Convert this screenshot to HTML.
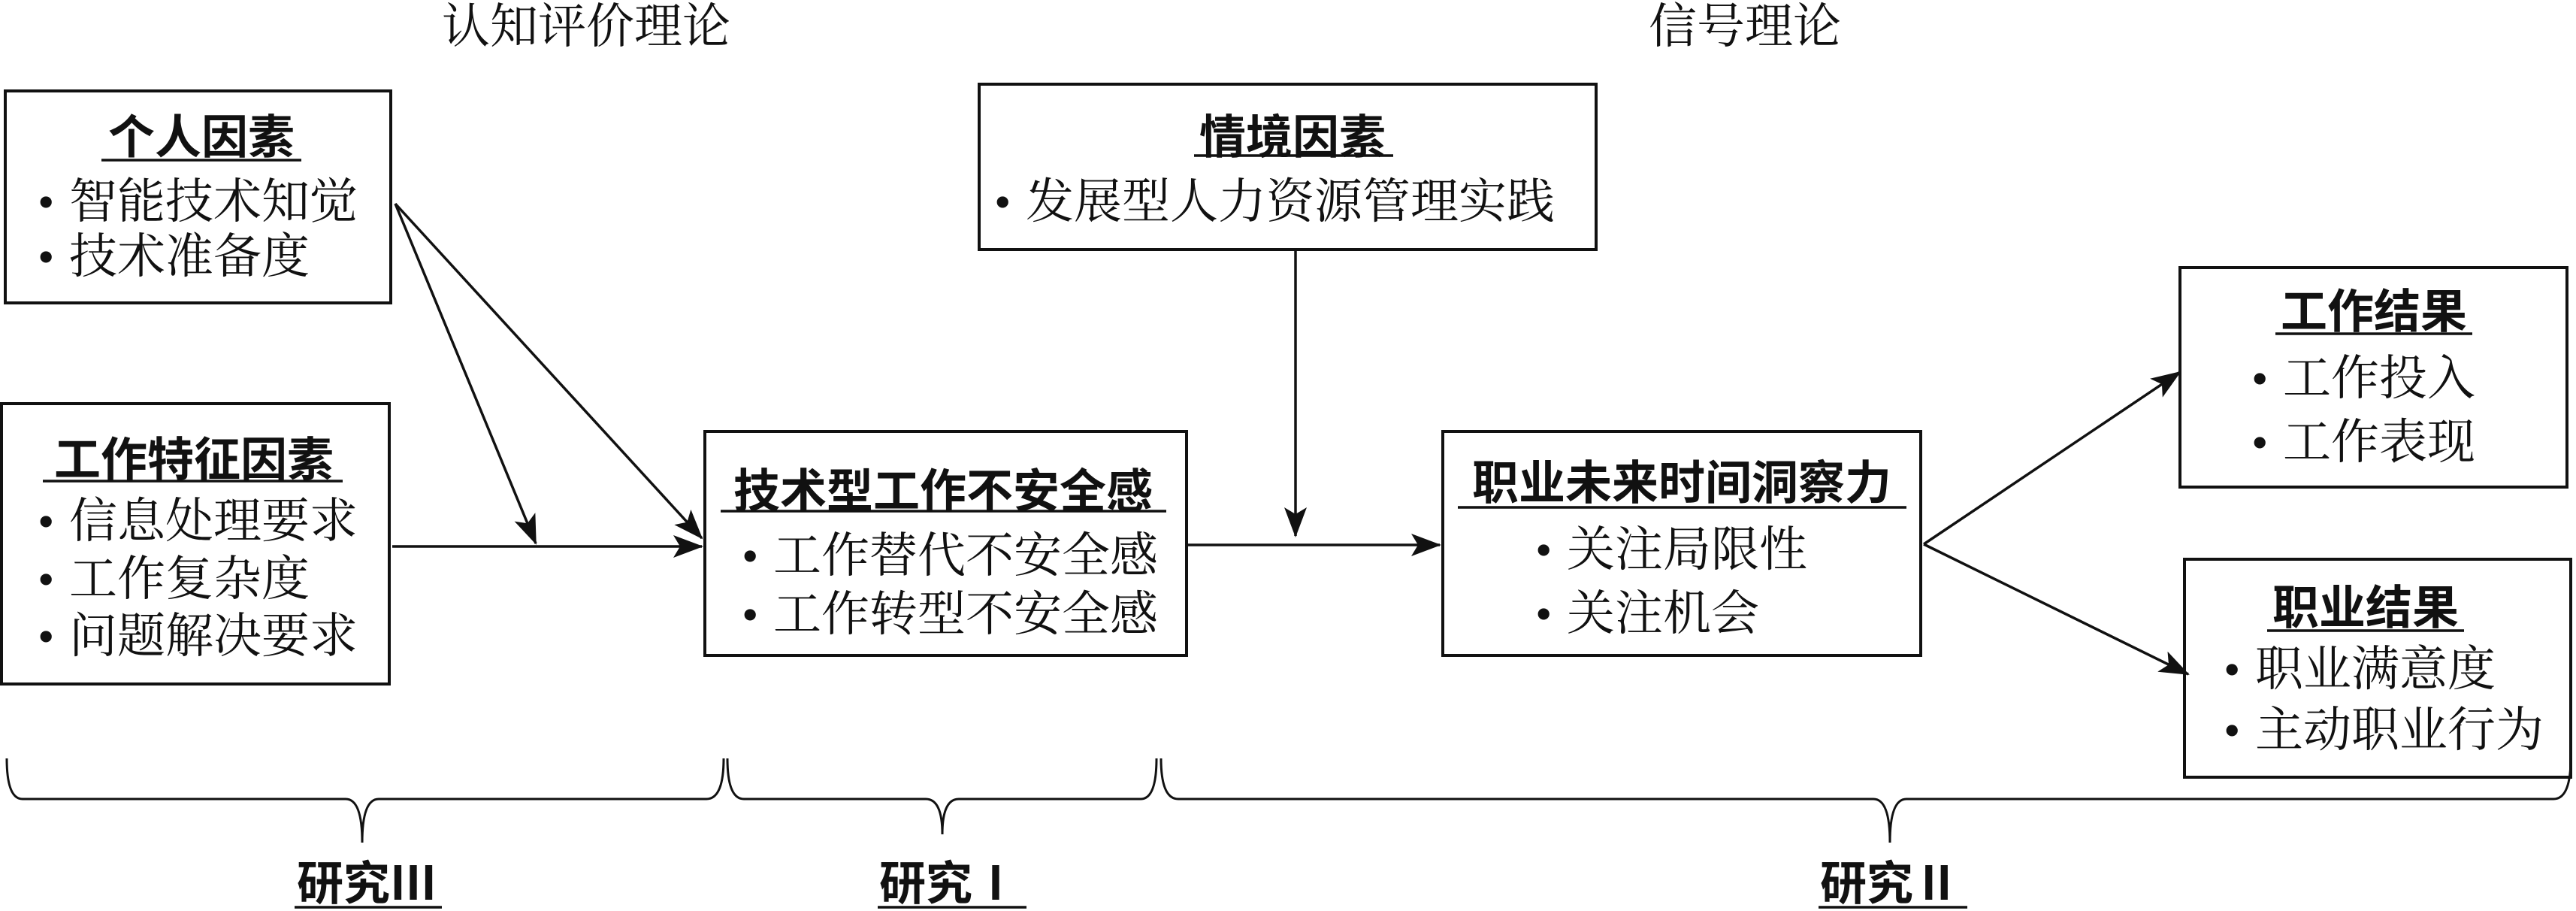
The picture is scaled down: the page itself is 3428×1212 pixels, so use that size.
<!DOCTYPE html>
<html><head><meta charset="utf-8"><style>
html,body{margin:0;padding:0;background:#fff}
svg{display:block}
.t{font-family:"Noto Serif CJK SC","Liberation Serif",serif;font-size:64px;fill:#111}
.d{font-family:"Liberation Serif",serif;font-size:64px;fill:#111}
.b{font-family:"Liberation Sans","Noto Sans CJK SC",sans-serif;font-size:62px;font-weight:bold;fill:#111}
</style></head><body>
<svg width="3428" height="1212" viewBox="0 0 3428 1212" xmlns="http://www.w3.org/2000/svg">
<defs>
<marker id="A" viewBox="0 0 40 30" refX="38" refY="15" markerWidth="40" markerHeight="30" orient="auto" markerUnits="userSpaceOnUse"><path d="M0,0 L40,15 L0,30 L9,15 Z" fill="#111"/></marker></defs>
<g fill="none" stroke="#111" stroke-width="4">
<rect x="7" y="121" width="513" height="282"/>
<rect x="2" y="537" width="516" height="373"/>
<rect x="938" y="574" width="641" height="298"/>
<rect x="1303" y="112" width="821" height="220"/>
<rect x="1920" y="574" width="636" height="298"/>
<rect x="2901" y="356" width="515" height="292"/>
<rect x="2907" y="744" width="514" height="290"/>
</g>
<g stroke="#111" stroke-width="3.5" fill="none">
<line x1="526" y1="271" x2="713" y2="723" marker-end="url(#A)"/>
<line x1="526" y1="271" x2="934" y2="716" marker-end="url(#A)"/>
<line x1="522" y1="727" x2="934" y2="727" marker-end="url(#A)"/>
<line x1="1579" y1="725" x2="1916" y2="725" marker-end="url(#A)"/>
<line x1="1724" y1="332" x2="1724" y2="713" marker-end="url(#A)"/>
<line x1="2560" y1="724" x2="2901" y2="495" marker-end="url(#A)"/>
<line x1="2560" y1="724" x2="2912" y2="897" marker-end="url(#A)"/>
</g>
<g stroke="#111" stroke-width="3" fill="none">
<path d="M9,1009 Q9,1063 30,1063 L460,1063 Q482,1063 482,1121 Q482,1063 504,1063 L940,1063 Q963,1063 963,1009"/>
<path d="M968,1009 Q968,1063 990,1063 L1232,1063 Q1254,1063 1254,1110 Q1254,1063 1276,1063 L1518,1063 Q1539,1063 1539,1009"/>
<path d="M1545,1009 Q1545,1063 1568,1063 L2493,1063 Q2515,1063 2515,1121 Q2515,1063 2537,1063 L3398,1063 Q3421,1063 3421,1009"/>
</g>
<text class="t" x="780" y="57" text-anchor="middle">认知评价理论</text>
<text class="t" x="2322" y="57" text-anchor="middle">信号理论</text>
<g class="b" text-anchor="middle">
<text x="268" y="204">个人因素</text>
<text x="258" y="633">工作特征因素</text>
<text x="1255" y="675">技术型工作不安全感</text>
<text x="1720" y="204">情境因素</text>
<text x="2238" y="664">职业未来时间洞察力</text>
<text x="3159" y="436">工作结果</text>
<text x="3148" y="830">职业结果</text>
<text x="488" y="1197">研究Ⅲ</text>
<text x="1263" y="1197">研究Ⅰ</text>
<text x="2515" y="1197">研究Ⅱ</text>
</g>
<g stroke="#111" stroke-width="3.5">
<line x1="135" y1="213" x2="401" y2="213"/>
<line x1="57" y1="640" x2="456" y2="640"/>
<line x1="959" y1="680" x2="1552" y2="680"/>
<line x1="1589" y1="207" x2="1854" y2="207"/>
<line x1="1940" y1="675" x2="2537" y2="675"/>
<line x1="3028" y1="444" x2="3290" y2="444"/>
<line x1="3017" y1="839" x2="3279" y2="839"/>
<line x1="392" y1="1207" x2="588" y2="1207"/>
<line x1="1168" y1="1207" x2="1366" y2="1207"/>
<line x1="2420" y1="1207" x2="2618" y2="1207"/>
</g>
<g class="d">
<text x="50" y="290">•</text><text x="50" y="363">•</text>
<text x="50" y="715">•</text><text x="50" y="792">•</text><text x="50" y="868">•</text>
<text x="987" y="761">•</text><text x="987" y="839">•</text>
<text x="1323" y="290">•</text>
<text x="2043" y="753">•</text><text x="2043" y="838">•</text>
<text x="2996" y="525">•</text><text x="2996" y="610">•</text>
<text x="2959" y="912">•</text><text x="2959" y="993">•</text>
</g>
<g class="t">
<text x="92" y="290">智能技术知觉</text>
<text x="92" y="363">技术准备度</text>
<text x="92" y="715">信息处理要求</text>
<text x="92" y="792">工作复杂度</text>
<text x="92" y="868">问题解决要求</text>
<text x="1029" y="761">工作替代不安全感</text>
<text x="1029" y="839">工作转型不安全感</text>
<text x="1365" y="290">发展型人力资源管理实践</text>
<text x="2085" y="753">关注局限性</text>
<text x="2085" y="838">关注机会</text>
<text x="3038" y="525">工作投入</text>
<text x="3038" y="610">工作表现</text>
<text x="3001" y="912">职业满意度</text>
<text x="3001" y="993">主动职业行为</text>
</g>
</svg>
</body></html>
